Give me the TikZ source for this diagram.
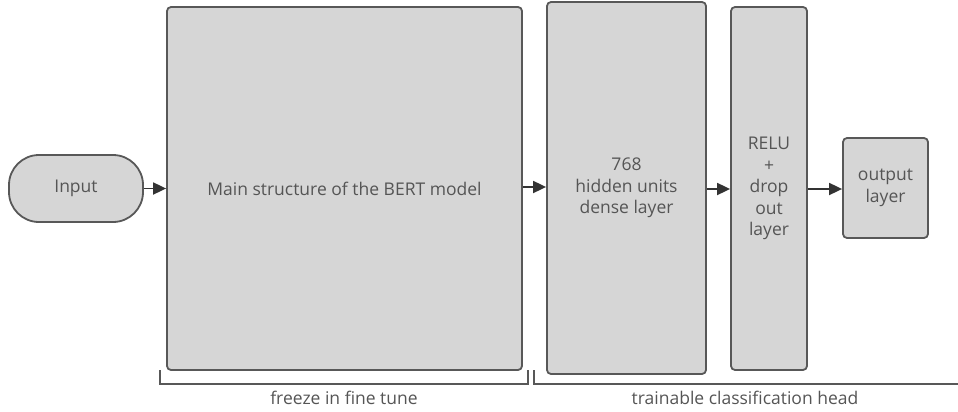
\documentclass[tikz,border=0pt]{standalone}
\usepackage{fontspec}
\setmainfont{Open Sans}
\usetikzlibrary{arrows.meta}
\definecolor{boxfill}{HTML}{D6D6D6}
\definecolor{boxline}{HTML}{585858}
\definecolor{txt}{HTML}{555555}
\definecolor{arrowc}{HTML}{333333}
\tikzset{
  block/.style={draw=boxline, fill=boxfill, line width=1.8pt, rounded corners=4pt,
    text=txt, align=center, font=\fontsize{17.5}{21.5}\selectfont, inner sep=0pt},
  pill/.style={block, rounded corners=30pt},
  link/.style={draw=arrowc, line width=1.8pt, -{Triangle[length=13pt,width=12pt]}},
  bracketline/.style={draw=boxline, line width=1.6pt},
  caption/.style={text=txt, font=\fontsize{17.5}{21}\selectfont}
}
\begin{document}
\begin{tikzpicture}[x=1pt,y=-1pt]
  \useasboundingbox (0,0) rectangle (958,412);
  % blocks
  \node[pill, minimum width=134pt, minimum height=67pt] (input) at (76,188.5) {Input};
  \node[block, minimum width=355pt, minimum height=363pt] (bert) at (344.5,188.5) {Main structure of the BERT model};
  \node[block, minimum width=159pt, minimum height=372pt] (dense) at (626.5,188) {768\\hidden units\\dense layer};
  \node[block, minimum width=76pt, minimum height=363pt] (relu) at (769,188.5) {RELU\\+\\drop\\out\\layer};
  \node[block, minimum width=85pt, minimum height=100pt] (out) at (885.5,188) {output\\layer};
  % connectors
  \draw[link] (input.east) -- (input.east -| bert.west);
  \draw[link] (bert.east |- 0,187) -- (dense.west |- 0,187);
  \draw[link] (dense.east |- 0,189) -- (relu.west |- 0,189);
  \draw[link] (relu.east |- 0,189) -- (out.west |- 0,189);
  % brackets under the blocks
  \coordinate (fa) at (160,370);
  \coordinate (fb) at (528,370);
  \coordinate (ta) at (534,370);
  \coordinate (tb) at (958,384);
  \draw[bracketline] (fa) -- ++(0,14) -| (fb);
  \draw[bracketline] (ta) |- (tb);
  \node[caption] (freeze) at (344,398) {freeze in fine tune};
  \node[caption] (train) at (745,398) {trainable classification head};
\end{tikzpicture}
\end{document}
